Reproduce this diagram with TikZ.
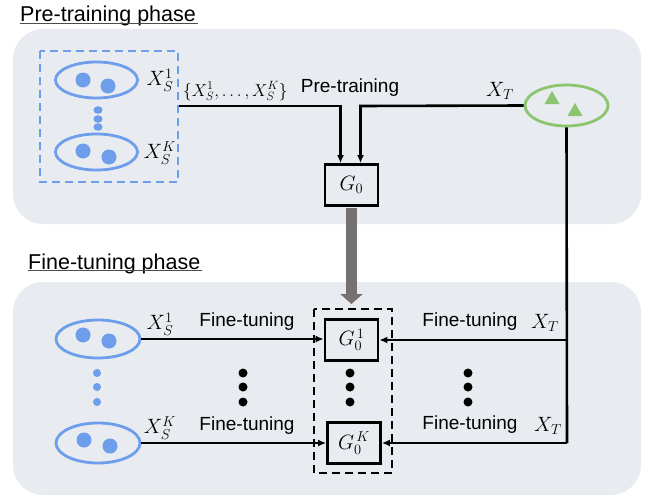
\documentclass[tikz,border=0pt]{standalone}
\usepackage{amsmath}
\usepackage{fontspec}
\setmainfont{Liberation Sans}
\usepackage{tikz}
\usetikzlibrary{arrows.meta}
\usetikzlibrary{positioning}
\usetikzlibrary{shapes.geometric}
\usepackage{xcolor}
\definecolor{panel gray}{RGB}{232,235,240}
\definecolor{set blue}{RGB}{108,158,235}
\definecolor{set green}{RGB}{140,196,112}
\definecolor{arrow gray}{RGB}{118,113,113}

\tikzset{
  panel/.style={fill=panel gray, draw=none, rounded corners=30pt},
  srcset/.style={ellipse, draw=set blue, line width=2.8pt, minimum width=82pt, minimum height=36pt, inner sep=0pt},
  tgtset/.style={ellipse, draw=set green, line width=2.8pt, minimum width=83pt, minimum height=41pt, inner sep=0pt},
  model/.style={draw, line width=2.8pt, minimum width=53pt, minimum height=41pt, inner sep=0pt, font=\fontsize{21}{23}\selectfont},
  lbl/.style={inner sep=1pt, font=\fontsize{19}{21}\selectfont},
  mlbl/.style={inner sep=1pt, font=\fontsize{21}{23}\selectfont},
  title/.style={inner sep=0pt, font=\fontsize{21.5}{24}\selectfont},
  link/.style={line width=2.6pt},
  tip/.style={link, -{Latex[length=8pt,width=7pt]}}
}

\begin{document}
\begin{tikzpicture}[x=1pt,y=-1pt]
			\useasboundingbox (0,0) rectangle (647,495);
			% panels
			\fill[panel] (13,29) rectangle (641,224);
			\fill[panel] (13,282) rectangle (641,495);
			\node[title, anchor=base west] (pretitle) at (20,22) {Pre-training phase};
			\draw[black!70, line width=0.9pt] (pretitle.south west) ++(0,-3.5) -- ++(178,0);
			\node[title, anchor=base west] (finetitle) at (28,269) {Fine-tuning phase};
			\draw[black!70, line width=0.9pt] (finetitle.south west) ++(0,-3.5) -- ++(174,0);

			% pre-training sources
			\draw[set blue, line width=2.8pt, dash pattern=on 8pt off 5pt] (40,51) rectangle (178,182);
			\coordinate (srcout) at (179,106);
			\node[srcset] (s1) at (96.5,80) {};
			\node[srcset] (sK) at (96.5,152) {};
			\foreach \cx/\cy in {83/80, 108/86, 83/151, 109/157}
				\fill[set blue] (\cx,\cy) circle (7.5pt);
			\foreach \cy in {110, 119, 127}
				\fill[set blue] (98,\cy) ellipse (4.5pt and 3.8pt);
			\node[mlbl] at (160,80) {$X_S^1$};
			\node[mlbl] at (160,153) {$X_S^K$};

			% target set
			\node[tgtset] (tgt) at (566.5,105.5) {};
			\fill[set green] (552,91) -- (544.5,104) -- (559.5,104) -- cycle;
			\fill[set green] (575,103) -- (567.5,116) -- (582.5,116) -- cycle;

			% pre-trained model
			\node[model] (g0) at (351.5,185) {$G_0$};
			\draw[tip] (srcout) -- (340.5,106) -- (g0.north -| 340.5,0);
			\draw[tip] (tgt.west) -- (360.5,106) -- (g0.north -| 360.5,0);
			\node[lbl, anchor=base west, font=\fontsize{17}{19}\selectfont] at (182,96) {$\{X_S^1,\ldots,X_S^K\}$};
			\node[lbl] at (350,88) {Pre-training};
			\node[mlbl] at (500,91) {$X_T$};

			% transfer arrow
			\draw[arrow gray, line width=11pt, -{Triangle[length=10pt,width=22pt]}] (351.5,208) -- (351.5,304);

			% fine-tuning
			\draw[line width=2.6pt, dash pattern=on 8pt off 5pt] (314,309) rectangle (392,473);
			\node[model] (g1) at (351.5,340) {$G_{0}^{\,1}$};
			\node[model] (gK) at (354,443) {$G_{0}^{\,K}$};
			\node[srcset, minimum width=84pt, minimum height=38pt] (f1) at (98,339) {};
			\node[srcset, minimum width=84pt, minimum height=40pt] (fK) at (98,443) {};
			\foreach \cx/\cy in {83/335, 109/341, 84/440, 110/446}
				\fill[set blue] (\cx,\cy) circle (7.5pt);
			\foreach \cy in {373, 387, 402}
				\fill[set blue] (97,\cy) circle (4pt);
			\foreach \cx in {243, 350, 468}
				\foreach \cy in {373, 387, 402}
					\fill (\cx,\cy) circle (4.5pt);

			\coordinate (tgtdown) at (567,443);
			\draw[link] (tgt.south) -- (tgtdown);
			\draw[tip] (f1.east) -- (f1.east -| g1.west);
			\draw[tip] (fK.east) -- (fK.east -| gK.west);
			\draw[tip] (tgt.south |- g1.east) -- (g1.east);
			\draw[tip] (tgtdown) -- (tgtdown -| gK.east);

			\node[mlbl] at (160,324) {$X_S^1$};
			\node[lbl] at (247,322) {Fine-tuning};
			\node[mlbl] at (160,428) {$X_S^K$};
			\node[lbl] at (247,426) {Fine-tuning};
			\node[lbl] at (470,322) {Fine-tuning};
			\node[mlbl] at (545,323) {$X_T$};
			\node[lbl] at (470,425) {Fine-tuning};
			\node[mlbl] at (548,426) {$X_T$};
		\end{tikzpicture}
\end{document}
